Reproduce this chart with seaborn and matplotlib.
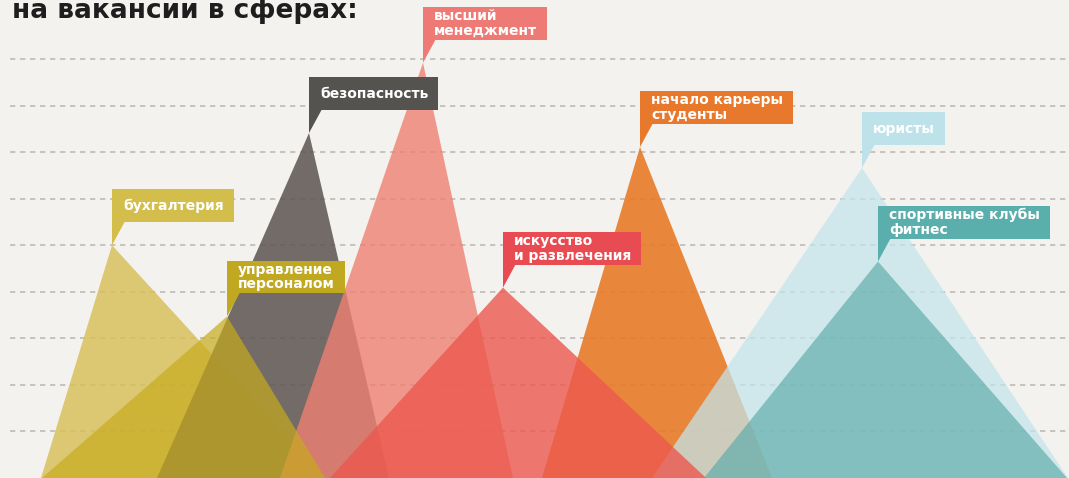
import matplotlib
matplotlib.use("Agg")
import matplotlib.pyplot as plt
from matplotlib.patches import Rectangle
import seaborn as sns

# ----------------------------
# Data (drawn back to front)
# ----------------------------
title = "на вакансии в сферах:"
sectors = ["бухгалтерия", "безопасность", "высший\nменеджмент", "управление\nперсоналом",
           "начало карьеры\nстуденты", "юристы", "спортивные клубы\nфитнес",
           "искусство\nи развлечения"]
peak_level = [5.0, 7.41, 8.92, 3.47, 7.11, 6.66, 4.65, 4.09]
peak_x = [112, 309, 423, 227, 640, 862, 878, 503]
base_left = [41, 157, 280, 42, 542, 652, 704, 330]
base_right = [325, 389, 513, 325, 772, 1068, 1067, 706]
grid_levels = [1, 2, 3, 4, 5, 6, 7, 8, 9]

fill_colors = ["#d7bf58", "#5c5450", "#ef8073", "#c7ab1d",
               "#e77b28", "#c3e5ec", "#61aeab", "#ec584e"]
fill_alpha = [0.82, 0.85, 0.8, 0.7, 0.9, 0.73, 0.7, 0.8]
box_colors = ["#d4be4b", "#555350", "#ee7a76", "#c0a820",
              "#e8792c", "#bee2ea", "#5aaeac", "#e84c52"]

BG = "#f4f2ee"
W, H = 1069, 478
PX = 1 / 46.6          # one pixel in level units
TOP = 478.5 * PX

sns.set_theme(style="white", rc={"axes.facecolor": BG, "figure.facecolor": BG})
plt.rcParams["font.family"] = ["DejaVu Sans"]

fig = plt.figure(figsize=(W / 100, H / 100), dpi=100)
ax = fig.add_axes([0, 0, 1, 1])
ax.set_xlim(0, W)
ax.set_ylim(0, TOP)
ax.set_axis_off()

# dashed guide lines
ax.hlines(grid_levels, 10, W, colors="#bebbb6", lw=1.2,
          linestyles=(0, (3.2, 2.8)), zorder=0)

# mountains
for i in range(len(sectors)):
    ax.fill([base_left[i], peak_x[i], base_right[i]], [0, peak_level[i], 0],
            color=fill_colors[i], alpha=fill_alpha[i], lw=0, zorder=1 + i)

# callout labels
fig.canvas.draw()
renderer = fig.canvas.get_renderer()
for i, name in enumerate(sectors):
    bottom = peak_level[i] + 23 * PX
    t = ax.text(peak_x[i] + 11, bottom + 16.5 * PX, name, color="white",
                fontsize=10, fontweight="bold", ha="left", va="center",
                linespacing=1.08, zorder=20)
    bb = t.get_window_extent(renderer)
    right = bb.x1 + 10
    ax.add_patch(Rectangle((peak_x[i], bottom), right - peak_x[i], 33 * PX,
                           color=box_colors[i], lw=0, zorder=18))
    ax.fill([peak_x[i], peak_x[i] + 13, peak_x[i]],
            [bottom + PX, bottom + PX, peak_level[i]],
            color=box_colors[i], lw=0, zorder=18)

ax.text(12, TOP - 18 * PX, title, fontsize=19, fontweight="bold",
        color="#1e1e1e", ha="left", va="baseline")

fig.savefig("out.png", dpi=100)
plt.close(fig)
